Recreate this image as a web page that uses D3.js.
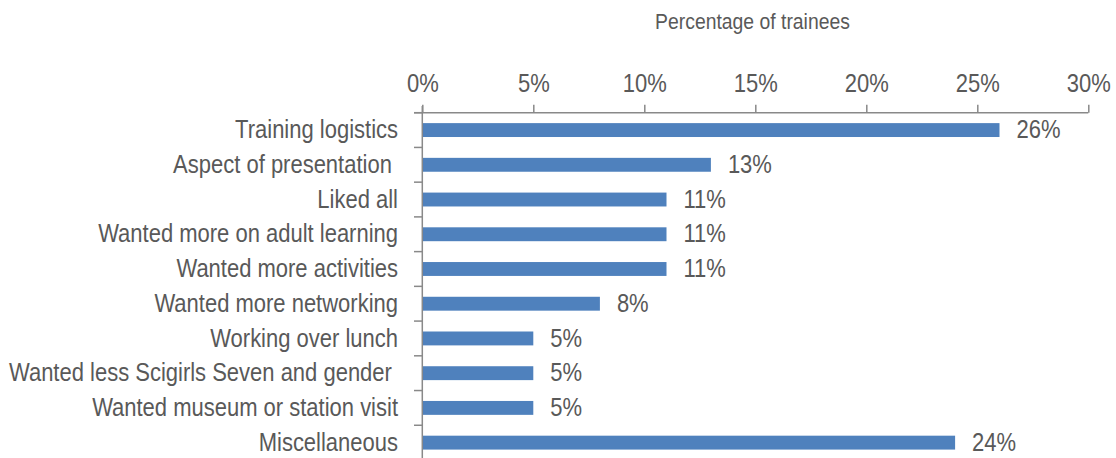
<!DOCTYPE html>
<html><head><meta charset="utf-8">
<script src="https://cdn.jsdelivr.net/npm/d3@7"></script>
<style>
body{margin:0;background:#fff;}
svg text{font-family:"Liberation Sans",Arial,sans-serif;fill:#595959;white-space:pre;}
</style></head>
<body><svg id="c" width="1116" height="458"></svg>
<script>
const categories = ["Training logistics","Aspect of presentation ","Liked all","Wanted more on adult learning","Wanted more activities","Wanted more networking","Working over lunch","Wanted less Scigirls Seven and gender ","Wanted museum or station visit","Miscellaneous"];
const values = [26,13,11,11,11,8,5,5,5,24];
const tickValues = [0,5,10,15,20,25,30];
const axisTitle = "Percentage of trainees";

const sx = 0.88; // horizontal condensing of the chart font
const svg = d3.select("#c");
const x = d3.scaleLinear().domain([0,30]).range([422.3,1088.3]);
const y = d3.scaleBand().domain(categories).range([112.7,460]).paddingInner(0.6).paddingOuter(0.3);
const axisColor = "#898989";

// bars
svg.selectAll("rect.bar").data(values).join("rect")
  .attr("x", x(0)).attr("y",(d,i)=>y(categories[i]))
  .attr("width", d=>x(d)-x(0)).attr("height", y.bandwidth())
  .attr("fill","#4F81BD");

// top axis
const xAxis = d3.axisTop(x).tickValues(tickValues).tickFormat(d=>d+"%").tickSize(8).tickPadding(13);
const gx = svg.append("g").attr("transform","translate(0,112.7)").call(xAxis);
gx.select(".domain").attr("stroke",axisColor).attr("stroke-width",1.5).attr("d",`M414,0H${x(30)}`);
gx.selectAll(".tick line").attr("stroke",axisColor).attr("stroke-width",1.5);
gx.selectAll(".tick text").style("font-size","25px").attr("fill","#595959").attr("transform",`scale(${sx},1)`);

// left axis line and ticks at band boundaries
const boundaries = d3.range(categories.length+1).map(i=>112.7+i*((460-112.7)/categories.length));
svg.append("line").attr("x1",x(0)).attr("x2",x(0)).attr("y1",106).attr("y2",460).attr("stroke",axisColor).attr("stroke-width",1.5);
svg.selectAll("line.yt").data(boundaries).join("line").attr("class","yt")
  .attr("x1",414).attr("x2",x(0)).attr("y1",d=>d).attr("y2",d=>d).attr("stroke",axisColor).attr("stroke-width",1.5);

// category labels
svg.selectAll("text.cat").data(categories).join("text").attr("class","cat")
  .attr("transform",`scale(${sx},1)`)
  .attr("x",398/sx).attr("y",d=>y(d)+y.bandwidth()/2).attr("dy","0.33em")
  .attr("text-anchor","end").style("font-size","25px").text(d=>d);

// value labels
svg.selectAll("text.val").data(values).join("text").attr("class","val")
  .attr("transform",`scale(${sx},1)`)
  .attr("x",d=>(x(d)+17)/sx).attr("y",(d,i)=>y(categories[i])+y.bandwidth()/2).attr("dy","0.33em")
  .style("font-size","25px").text(d=>d+"%");

// axis title
svg.append("text").attr("transform",`scale(${sx},1)`).attr("x",752.5/sx).attr("y",29).attr("text-anchor","middle").style("font-size","22px").text(axisTitle);
</script></body></html>
